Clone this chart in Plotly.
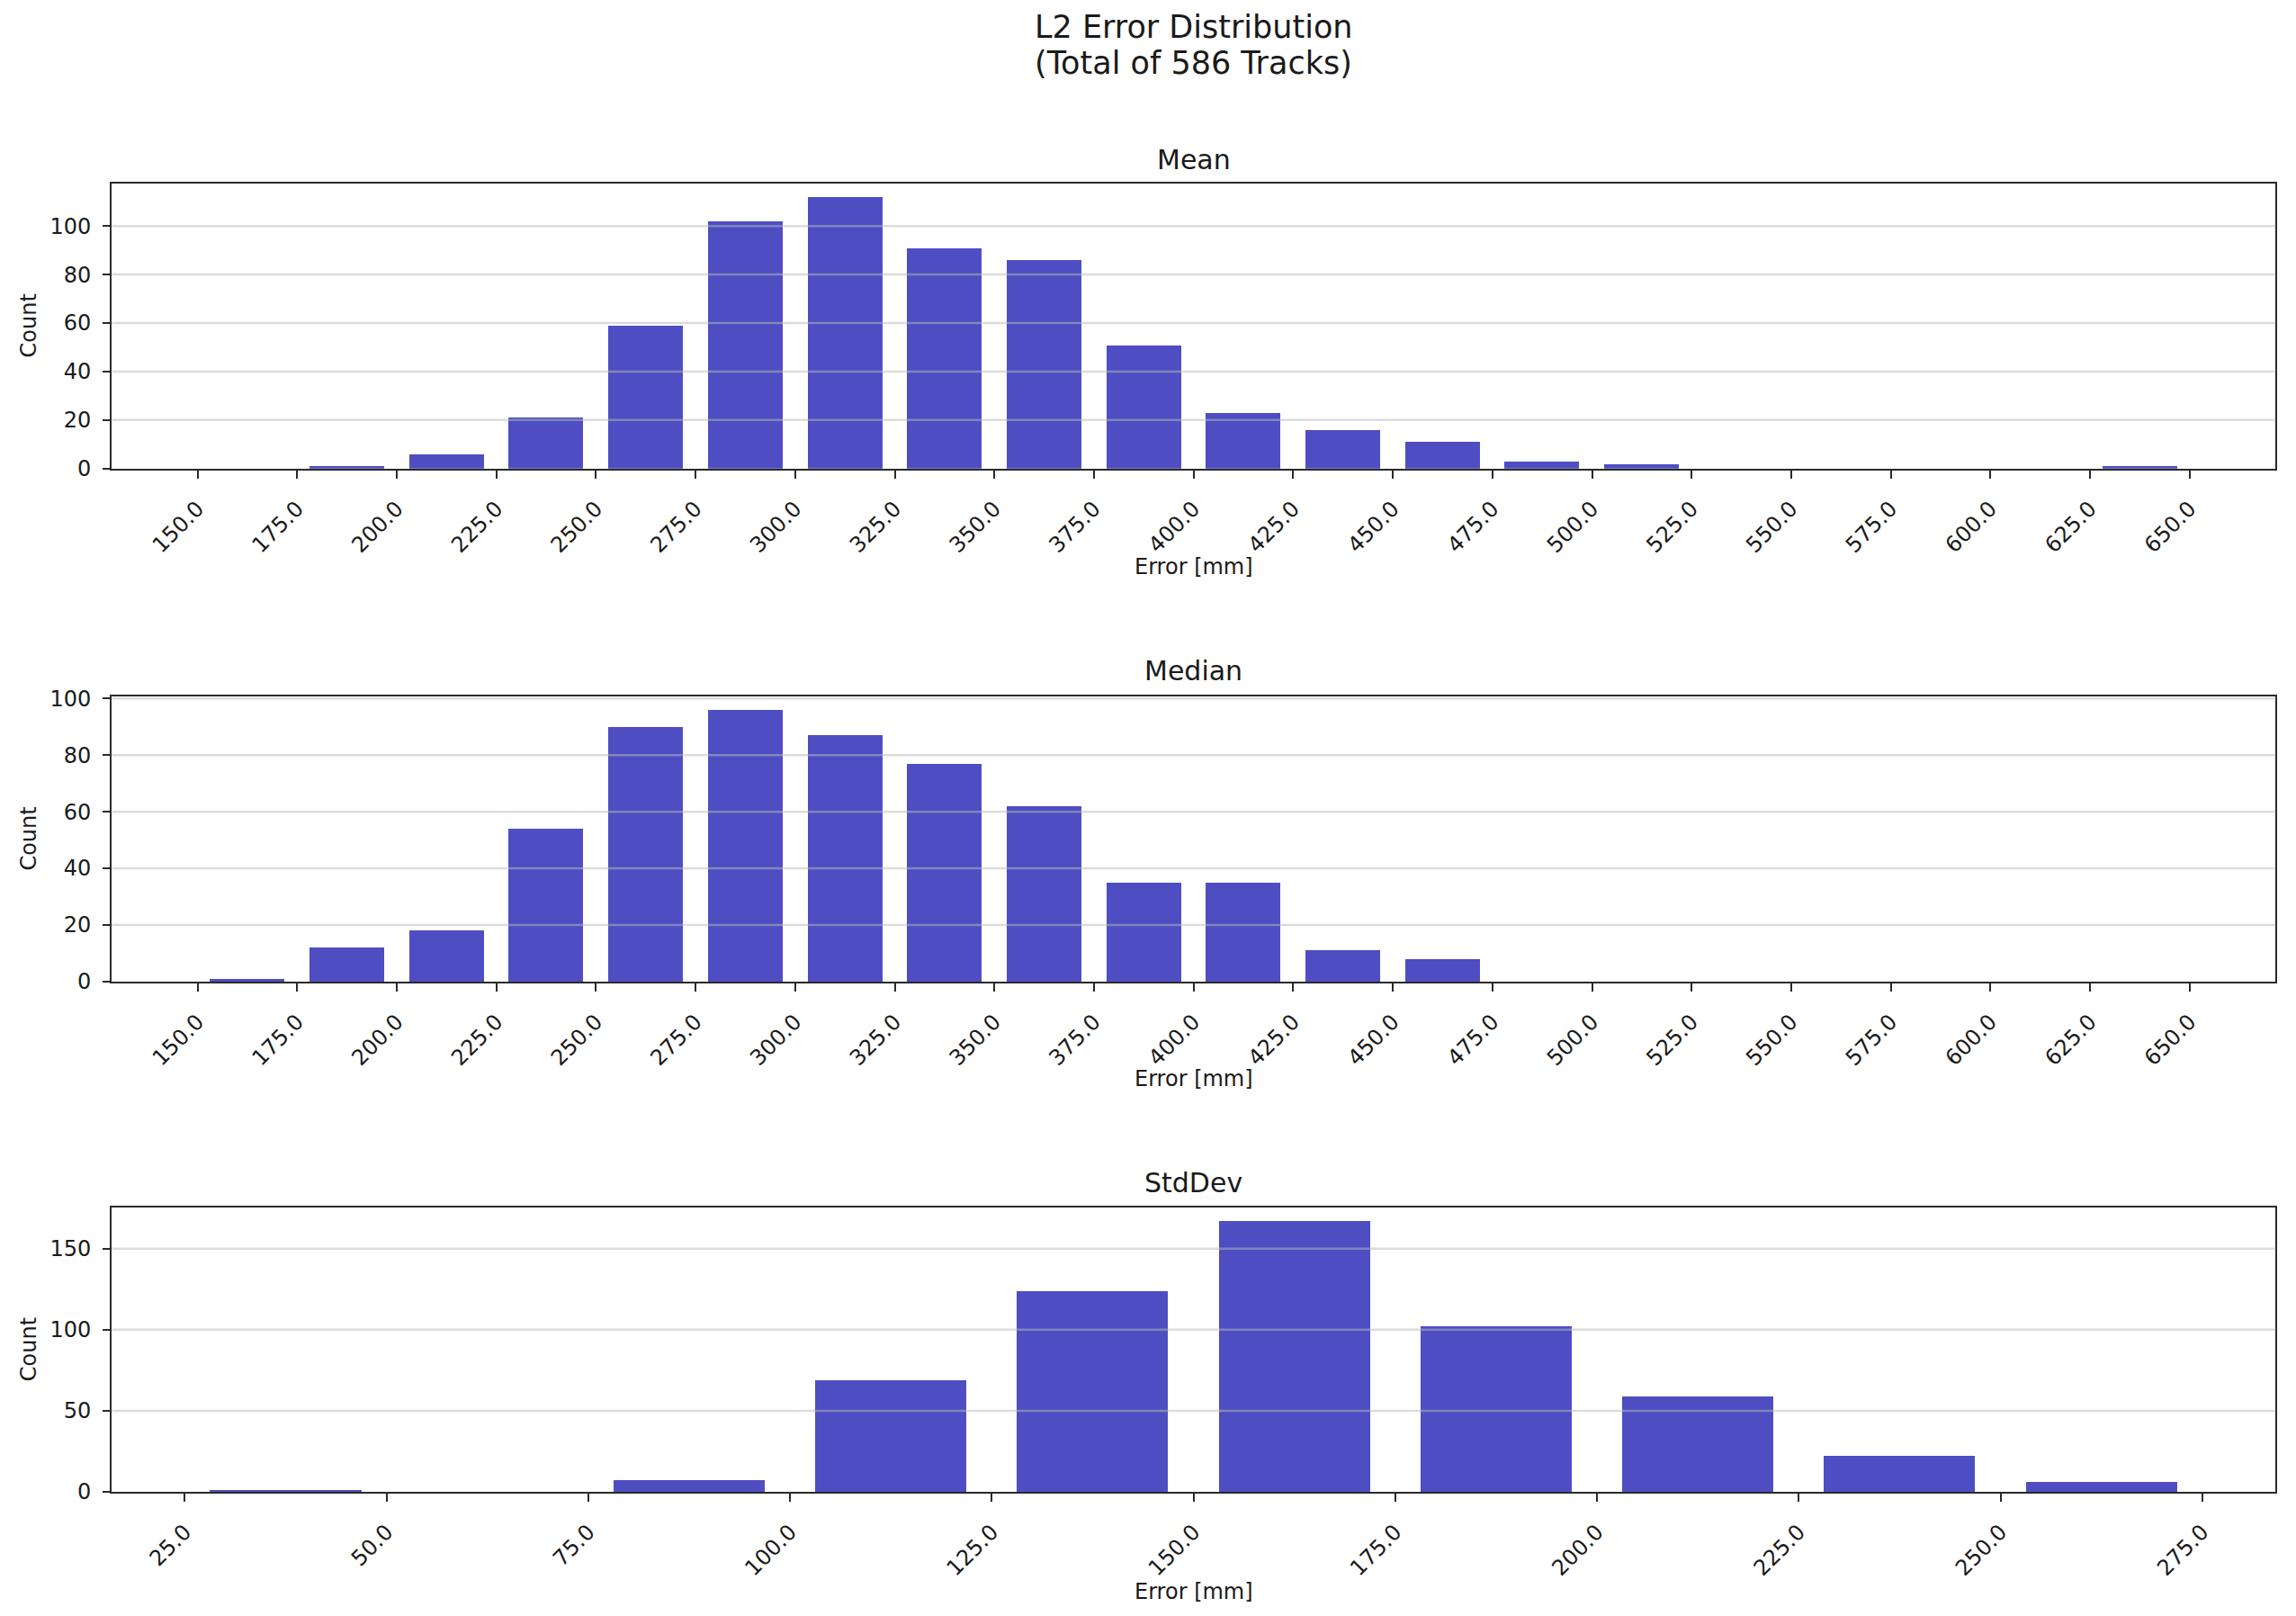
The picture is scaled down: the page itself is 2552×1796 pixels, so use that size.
import plotly.graph_objects as go

# ---------------- data ----------------
mean_edges = [150.0, 175.0, 200.0, 225.0, 250.0, 275.0, 300.0, 325.0, 350.0, 375.0, 400.0,
              425.0, 450.0, 475.0, 500.0, 525.0, 550.0, 575.0, 600.0, 625.0, 650.0]
mean_counts = [0, 1, 6, 21, 59, 102, 112, 91, 86, 51, 23, 16, 11, 3, 2, 0, 0, 0, 0, 1]

median_edges = [150.0, 175.0, 200.0, 225.0, 250.0, 275.0, 300.0, 325.0, 350.0, 375.0, 400.0,
                425.0, 450.0, 475.0, 500.0, 525.0, 550.0, 575.0, 600.0, 625.0, 650.0]
median_counts = [1, 12, 18, 54, 90, 96, 87, 77, 62, 35, 35, 11, 8, 0, 0, 0, 0, 0, 0, 0]

std_edges = [25.0, 50.0, 75.0, 100.0, 125.0, 150.0, 175.0, 200.0, 225.0, 250.0, 275.0]
std_counts = [1, 0, 7, 69, 124, 167, 102, 59, 22, 6]

panel_titles = ["Mean", "Median", "StdDev"]
main_title = ["L2 Error Distribution", "(Total of 586 Tracks)"]
x_label = "Error [mm]"
y_label = "Count"

# ---------------- styling ----------------
W, H = 2552, 1796
FONT = "DejaVu Sans"
TXT = "#1a1a1a"
BAR = "rgb(78,78,194)"
SPINE = "#2a2a2a"
BAR_FRAC = 0.75

# correction between figure coordinates and the photographed page
OFF_X, OFF_Y, SC_Y = 7.8, 17.3, 0.9859


def fx(px):
    return (px - OFF_X) / W


def fy(py):
    return 1 - ((py - OFF_Y) / SC_Y) / H


# target pixel boxes on the page (left, right, top, bottom)
X_LEFT, X_RIGHT = 124, 2529
panels_px = [(202, 519), (772, 1089), (1340, 1656)]
ytick_sets = [[0, 20, 40, 60, 80, 100], [0, 20, 40, 60, 80, 100], [0, 50, 100, 150]]
panel_title_y = [176, 744, 1313]
xlabel_y = [628, 1197, 1767]
XC = (X_LEFT + X_RIGHT) / 2

datasets = [(mean_edges, mean_counts), (median_edges, median_counts), (std_edges, std_counts)]

fig = go.Figure()
layout = dict(
    width=W, height=H,
    margin=dict(l=0, r=0, t=0, b=0, pad=0),
    paper_bgcolor="white", plot_bgcolor="white",
    showlegend=False,
    font=dict(family=FONT, size=24, color=TXT),
    bargap=0,
)
annotations = []
shapes = []

for i, ((edges, counts), (top, bot)) in enumerate(zip(datasets, panels_px)):
    n = i + 1
    xa = "x" if n == 1 else f"x{n}"
    ya = "y" if n == 1 else f"y{n}"
    centers = [(a + b) / 2 for a, b in zip(edges[:-1], edges[1:])]
    bw = (edges[1] - edges[0]) * BAR_FRAC
    fig.add_trace(go.Bar(
        x=centers, y=counts, width=bw,
        marker=dict(color=BAR, line=dict(width=0)),
        xaxis=xa, yaxis=ya, hoverinfo="x+y",
    ))
    lo = centers[0] - bw / 2
    hi = centers[-1] + bw / 2
    m = 0.05 * (hi - lo)
    ymax = 1.05 * max(counts)
    xkey = "xaxis" if n == 1 else f"xaxis{n}"
    ykey = "yaxis" if n == 1 else f"yaxis{n}"
    layout[xkey] = dict(
        domain=[fx(X_LEFT), fx(X_RIGHT)],
        anchor=ya,
        range=[lo - m, hi + m],
        tickmode="array", tickvals=edges, ticktext=[f"{e:.1f}" for e in edges],
        tickangle=-45,
        ticks="outside", ticklen=9, tickwidth=2, tickcolor=SPINE,
        ticklabelstandoff=10,
        showline=True, linecolor=SPINE, linewidth=2, mirror=True,
        showgrid=False, zeroline=False,
        tickfont=dict(family=FONT, size=24, color=TXT),
    )
    layout[ykey] = dict(
        domain=[fy(bot), fy(top)],
        anchor=xa,
        range=[0, ymax],
        tickmode="array", tickvals=ytick_sets[i],
        ticks="outside", ticklen=8, tickwidth=2, tickcolor=SPINE,
        ticklabelstandoff=8,
        showline=True, linecolor=SPINE, linewidth=2, mirror=True,
        showgrid=False, zeroline=False,
        tickfont=dict(family=FONT, size=24, color=TXT),
    )
    # horizontal grid lines drawn above the bars (as in the reference)
    for tv in ytick_sets[i]:
        if tv == 0:
            continue
        shapes.append(dict(
            type="line", xref=f"{xa} domain", yref=ya,
            x0=0, x1=1, y0=tv, y1=tv, layer="above",
            line=dict(color="rgba(185,185,185,0.5)", width=2.5),
        ))
    annotations.append(dict(
        text=panel_titles[i], x=fx(XC), y=fy(panel_title_y[i]),
        xref="paper", yref="paper", xanchor="center", yanchor="middle",
        showarrow=False, font=dict(family=FONT, size=30, color=TXT),
    ))
    annotations.append(dict(
        text=x_label, x=fx(XC), y=fy(xlabel_y[i]),
        xref="paper", yref="paper", xanchor="center", yanchor="middle",
        showarrow=False, font=dict(family=FONT, size=24, color=TXT),
    ))
    annotations.append(dict(
        text=y_label, x=fx(32), y=fy((top + bot) / 2), textangle=-90,
        xref="paper", yref="paper", xanchor="center", yanchor="middle",
        showarrow=False, font=dict(family=FONT, size=24, color=TXT),
    ))

for txt, py in zip(main_title, [28, 68]):
    annotations.append(dict(
        text=txt, x=fx(XC), y=fy(py),
        xref="paper", yref="paper", xanchor="center", yanchor="middle",
        showarrow=False, font=dict(family=FONT, size=35, color=TXT),
    ))

layout["annotations"] = annotations
layout["shapes"] = shapes
fig.update_layout(**layout)
fig.write_html("out.html")
